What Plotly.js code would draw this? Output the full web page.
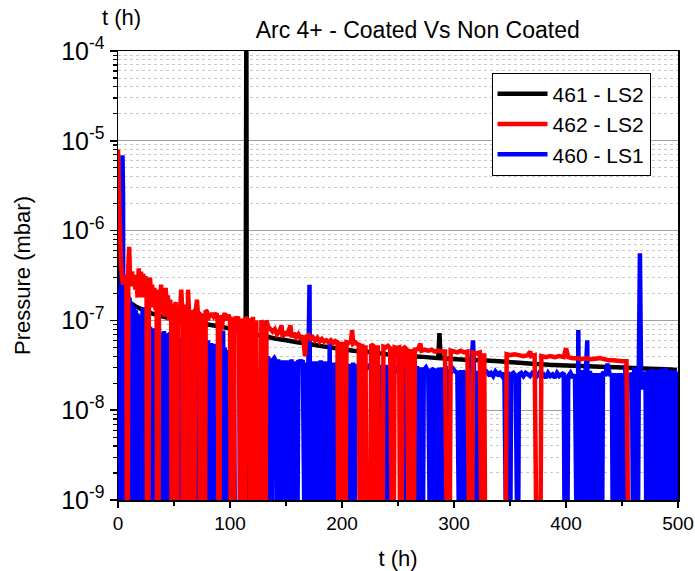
<!DOCTYPE html>
<html><head><meta charset="utf-8">
<script src="https://cdn.plot.ly/plotly-3.0.1.min.js"></script>
<style>html,body{margin:0;padding:0;background:#fff}#chart{width:695px;height:571px}</style>
</head><body><div id="chart"></div>
<script>
// Series names
const seriesNames = ["461 - LS2", "462 - LS2", "460 - LS1"];
const seriesColors = ["#000000", "#ff0000", "#0000ff"];

// 461 - LS2 (black)
const t461 = [0,0.8,1.5,3,6,10,15,20,30,40,50,60,70,80,90,100,110,114,114.6,115.2,115.8,120,130,140,150,160,170,180,190,200,210,220,230,240,250,260,270,280,286,287,288,295,310,325,340,355,370,385,400,415,430,445,460,475,490,499];
const p461 = [1e-10,1e-6,3e-7,2.2e-7,1.8e-7,1.6e-7,1.45e-7,1.35e-7,1.2e-7,1.1e-7,1.03e-7,9.8e-8,9.4e-8,9e-8,8.6e-8,8.1e-8,7.6e-8,7.4e-8,2e-4,1e-10,7.3e-8,7.1e-8,6.7e-8,6.3e-8,6e-8,5.7e-8,5.5e-8,5.2e-8,5e-8,4.8e-8,4.6e-8,4.5e-8,4.35e-8,4.2e-8,4.1e-8,4e-8,3.95e-8,3.85e-8,3.8e-8,7.2e-8,3.8e-8,3.75e-8,3.65e-8,3.6e-8,3.5e-8,3.4e-8,3.3e-8,3.2e-8,3.15e-8,3.1e-8,3.05e-8,3e-8,2.95e-8,2.9e-8,2.85e-8,2.8e-8];

// 462 - LS2 (red)
const t462 = [0,0.8,1.5,2.5,3.5,4.5,5.5,6.5,7.5,8,8.6,9.2,10,10.8,11.6,12.5,13.5,14.5,15.5,16.5,17.5,18.5,19.5,20.5,21.5,22.5,23.5,24.5,25.5,26,27,27.6,28.5,29.5,30.5,31.5,32.5,33.5,34.5,35,36,36.6,37.5,38.5,39.5,40.5,41.5,42.5,43.5,44.5,45.5,46.5,47.5,48,48.8,49.4,50.5,51.5,52,52.8,53.4,54.5,55.5,56.5,57.5,58,58.8,59.4,60.3,61,61.8,62.5,63.5,64,64.8,65.4,66.5,67.3,68.1,68.8,69.5,70.5,71.5,72.5,73.5,74.5,75.2,76.3,77,77.6,78.3,79.5,80.5,81.5,82.5,84,85.5,86.6,88,89.2,89.8,90.5,91.1,92.5,94,95.5,97,98.5,100,101,103,104,105.5,107,108,109,110,111,112,113,114,115.5,117,118,119.5,120.5,121.5,122.5,123.5,125,127,128,129.5,130.5,131.5,132.5,134,136,138,140,142,144,146,147,149,151,154,155,157,159,161,163,165,167,168,170,172,174,176,178,180,182,184,186,188,190,192,194,196,197,199,200,201,203,204,206,208,209,210,212,214,215,216,217,218,219,220,221,222,225,226,228,230,231,232,234,236,237,239,241,243,245,246,247,249,251,252,253,254,256,258,260,261,262,263,264,265,268,270,271,274,277,280,283,286,289,292,294,296,297,300,303,306,309,312,314,316,317,320,323,325,326,327,328,346,347,350,354,358,362,366,368,369,372,374,377,378,382,386,390,394,398,400,402,406,410,414,418,422,426,430,434,438,442,446,450,454,456];
const p462 = [8e-6,3e-6,1.2e-6,5e-7,3e-7,2.5e-7,3.2e-7,2.6e-7,3e-7,1e-10,1e-10,4e-7,6.6e-7,3e-7,2.4e-7,3.5e-7,2.6e-7,3.2e-7,2.2e-7,2.8e-7,1.8e-7,3.8e-7,2e-7,3.5e-7,1.8e-7,3.3e-7,2.3e-7,3.1e-7,2.2e-7,1e-10,1e-10,2.5e-7,3e-7,2e-7,2.5e-7,1.4e-7,2.3e-7,1.3e-7,2e-7,1e-10,1e-10,2.2e-7,1.5e-7,2.5e-7,1.2e-7,2e-7,1.1e-7,2.3e-7,1.5e-7,1.9e-7,1e-7,1.7e-7,1.3e-7,1e-10,1e-10,1.5e-7,1.3e-7,1.6e-7,1e-10,1e-10,1.4e-7,8.5e-8,1.4e-7,2.2e-7,1.2e-7,1e-10,1e-10,1.3e-7,1.5e-7,1e-10,1e-10,2.2e-7,1.2e-7,1e-10,1e-10,1.3e-7,1.1e-7,1e-10,1e-10,1.35e-7,1.3e-7,1.7e-7,1.1e-7,1.25e-7,1e-10,1e-10,1.2e-7,1e-7,1e-10,1e-10,1.3e-7,1.25e-7,1e-7,1.2e-7,1.1e-7,1.2e-7,1.1e-7,1.15e-7,1.2e-7,9e-8,1e-10,1e-10,1.15e-7,8e-8,1.1e-7,1.2e-7,1e-7,1.15e-7,1.05e-7,1e-10,1e-10,1.1e-7,1e-7,1.1e-7,9.5e-8,1e-10,1e-10,1.05e-7,1e-10,1e-10,1.1e-7,9.5e-8,1.05e-7,1e-10,1e-10,1.1e-7,1e-10,1e-10,1e-7,1e-10,1e-10,1e-7,9e-8,1e-10,1e-10,1e-7,8.5e-8,8e-8,7.5e-8,8e-8,7e-8,7.5e-8,8.8e-8,6.5e-8,7.5e-8,6.8e-8,8.8e-8,6.5e-8,7.2e-8,6.5e-8,7e-8,6.2e-8,6.8e-8,4e-8,6.5e-8,6.8e-8,6.2e-8,6.5e-8,6e-8,6.4e-8,5.8e-8,6.2e-8,5.8e-8,6e-8,5.7e-8,6e-8,5.6e-8,5.9e-8,5.7e-8,1e-10,1e-10,5.8e-8,1e-10,1e-10,5.7e-8,5.6e-8,5.8e-8,7.8e-8,5.5e-8,5.7e-8,5.4e-8,5.6e-8,1e-10,1e-10,5.5e-8,1e-10,1e-10,5.3e-8,1e-10,1e-10,5.4e-8,5.2e-8,1e-10,1e-10,5.3e-8,1e-10,1e-10,5.1e-8,5e-8,5.2e-8,4.9e-8,1e-10,1e-10,5e-8,4.9e-8,5e-8,1e-10,1e-10,4.8e-8,5e-8,4.7e-8,1e-10,1e-10,4.8e-8,1e-10,1e-10,4.7e-8,4.8e-8,5.5e-8,4.6e-8,4.7e-8,4.6e-8,4.7e-8,4.5e-8,4.6e-8,4.5e-8,4.5e-8,1e-10,1e-10,4.6e-8,4.5e-8,4.4e-8,4.6e-8,4.4e-8,4.5e-8,1e-10,1e-10,4.4e-8,4.3e-8,4.4e-8,1e-10,1e-10,4.3e-8,1e-10,1e-10,4.2e-8,4.1e-8,4.2e-8,4.1e-8,4e-8,4.1e-8,4.5e-8,4e-8,4.1e-8,1e-10,1e-10,4e-8,3.9e-8,4e-8,3.9e-8,4e-8,3.9e-8,4.9e-8,3.9e-8,3.8e-8,3.8e-8,3.7e-8,3.8e-8,3.7e-8,3.75e-8,3.8e-8,3.7e-8,3.6e-8,3.6e-8,3.55e-8,3.5e-8,3.5e-8,1e-10];

// 460 - LS1 (blue)
const t460 = [0,0.7,1.4,2.1,2.8,3.5,4,4.5,5,5.7,6.4,7.1,8,9,9.6,10.3,11,11.7,12.4,13.1,13.8,14.5,15.2,15.9,16.6,17.3,18,18.7,19.4,20.1,20.8,21.5,22.2,22.9,23.6,24.5,25.5,26.5,27.3,28,28.7,29.4,30.1,30.8,31.5,32.2,32.9,33.6,34.3,35.5,36.5,37.6,38.3,39,39.7,40.4,41.1,41.8,42.5,43.2,43.9,44.6,45.3,46.5,47.5,48.5,49.6,50.3,51,51.7,52.4,53.1,53.8,54.5,55.2,55.9,56.6,57.3,58,58.7,59.4,60.2,61.2,62.2,63,63.7,64.4,65.1,65.8,66.5,68,69.5,70,70.6,72,74,76,77.6,78.2,78.9,79.6,80.3,81,81.7,82.4,83.1,83.8,84.5,85.2,85.9,86.6,87.3,88,88.6,89.5,90.5,91.3,91.8,92.5,93.2,93.9,94.6,95.3,96,96.7,97.4,98.1,98.8,99.5,100.3,101.5,102.5,103.5,104.5,131,132,133,134,135,136,137,138,139.5,141,142,143,144,145,146,147,148,149,150,151,152,153,154,155,156,157,158,159,160,161,163,165,167,168,169,170,171,172,173,174,175,176,177,178,179,180,181,182,183,184,185,186,187,188,189,190,191,192,193,194,195,197,199,201,203,205,206,207,208,209,210,211,212,214,216,218,220,222,224,226,228,229,231,233,235,236,237,238,239,240,241,242,243,244,245,247,249,251,253,254,255,256,257,258,259,260,261,262,263,264,265,266,267,268,269,270,271,272,273,275,277,279,280,282,284,285,287,288,289,290,291,292,293,294,295,297,299,301,303,305,306,307,308,310,312,313,315,317,318,320,321,323,325,327,329,331,333,335,337,339,341,343,345,347,348,350,351,353,355,357,358,360,362,364,366,368,370,372,374,376,378,380,382,384,386,388,390,392,394,396,398,399,400,401,402,404,406,408,410,411,412,413,414,415,416,417,418,419,420,421,423,424,425,426,427,428,429,430,431,432,433,435,437,439,441,442,443,444,445,447,448,449,450,451,452,453,454,455,457,459,460,461,462,463,464,465,466,467,468,469,471,472,473,474,475,476,477,478,479,480,481,482.5,484,485,486,487,488,489,490,491,492,493,494,495,496,497,498,499,500];
const p460 = [2.2e-7,1e-10,2e-7,1e-10,2.3e-7,2e-6,6.9e-6,2.5e-6,1e-10,2.2e-7,1e-10,2e-7,1.9e-7,1.85e-7,1e-10,1.8e-7,1e-10,1.6e-7,1e-10,1.5e-7,1e-10,1.4e-7,1e-10,1.3e-7,1e-10,1.2e-7,1e-10,1.15e-7,1e-10,1.1e-7,1e-10,1e-7,1.4e-7,1e-10,9.5e-8,9.2e-8,9e-8,8.8e-8,8.6e-8,1e-10,8.5e-8,1e-10,8.2e-8,1e-10,8e-8,1e-10,7.8e-8,1e-10,7.6e-8,7.5e-8,7.6e-8,1e-10,7.4e-8,1e-10,7.3e-8,1e-10,7.6e-8,1e-10,7e-8,1e-10,7.2e-8,1e-10,6.9e-8,7.1e-8,6.8e-8,6.9e-8,1e-10,6.8e-8,1e-10,6.6e-8,1e-10,1.05e-7,1e-10,6.5e-8,1e-10,6.4e-8,1e-10,6.5e-8,1e-10,6.3e-8,1e-10,6.2e-8,6.4e-8,6.2e-8,1e-10,6.1e-8,1e-10,6.2e-8,1e-10,6e-8,6.1e-8,6e-8,1e-10,6e-8,5.9e-8,6e-8,5.8e-8,5.9e-8,1e-10,5.7e-8,1e-10,6e-8,1e-10,5.5e-8,1e-10,5.6e-8,1e-10,5.4e-8,1e-10,5.3e-8,1e-10,5.5e-8,1e-10,5.2e-8,5.1e-8,5.2e-8,5e-8,1e-10,5e-8,1e-10,7.7e-8,1e-10,5e-8,1e-10,4.7e-8,1e-10,4.5e-8,1e-10,4.3e-8,4e-8,4.2e-8,3.9e-8,4e-8,1e-10,1e-10,8.8e-8,1e-10,4e-8,1e-10,3.8e-8,1e-10,3.6e-8,3.8e-8,3.5e-8,1e-10,3.7e-8,1e-10,3.5e-8,1e-10,3.6e-8,1e-10,3.4e-8,1e-10,3.6e-8,1e-10,3.5e-8,1e-10,3.7e-8,1e-10,3.4e-8,1e-10,3.5e-8,1e-10,3.6e-8,3.4e-8,3.6e-8,1e-10,3.4e-8,1e-10,3.5e-8,2.5e-7,1e-10,3.5e-8,1e-10,3.3e-8,1e-10,3.5e-8,1e-10,3.4e-8,1e-10,3.6e-8,1e-10,3.3e-8,1e-10,3.5e-8,1e-10,3.4e-8,1e-10,5.6e-8,1e-10,3.3e-8,1e-10,3.4e-8,1e-10,3.2e-8,3.5e-8,3.1e-8,3.3e-8,3e-8,1e-10,3.3e-8,1e-10,3.2e-8,1e-10,3.4e-8,1e-10,3.1e-8,3e-8,3.2e-8,3e-8,3.3e-8,2.9e-8,3.1e-8,3e-8,1e-10,3.4e-8,3e-8,2.9e-8,3.1e-8,1e-10,3e-8,1e-10,3.2e-8,1e-10,3e-8,1e-10,3.1e-8,1e-10,2.9e-8,3e-8,2.8e-8,3.1e-8,2.9e-8,1e-10,3e-8,1e-10,4.4e-8,1e-10,3e-8,1e-10,2.8e-8,1e-10,3e-8,1e-10,2.9e-8,1e-10,3.1e-8,1e-10,2.8e-8,1e-10,3e-8,1e-10,2.8e-8,3e-8,2.7e-8,1e-10,2.9e-8,2.8e-8,1e-10,2.9e-8,2.7e-8,1e-10,3e-8,1e-10,2.8e-8,1e-10,3.1e-8,1e-10,2.8e-8,2.6e-8,2.9e-8,2.7e-8,2.6e-8,1e-10,2.8e-8,1e-10,2.6e-8,2.7e-8,1e-10,2.6e-8,2.8e-8,6e-8,2.6e-8,1e-10,2.7e-8,2.5e-8,2.8e-8,2.6e-8,2.7e-8,2.5e-8,2.6e-8,2.4e-8,2.7e-8,2.5e-8,2.6e-8,2.4e-8,2.6e-8,1e-10,2.7e-8,1e-10,2.5e-8,2.6e-8,2.4e-8,1e-10,2.5e-8,2.6e-8,2.4e-8,2.6e-8,2.5e-8,2.4e-8,2.6e-8,2.5e-8,2.4e-8,2.6e-8,2.4e-8,2.5e-8,2.3e-8,2.6e-8,2.4e-8,2.5e-8,2.3e-8,2.6e-8,2.4e-8,2.5e-8,2.6e-8,1e-10,2.5e-8,1e-10,2.4e-8,2.6e-8,2.3e-8,2.5e-8,1e-10,7.8e-8,1e-10,2.6e-8,1e-10,2.8e-8,1e-10,2.5e-8,3.2e-8,6e-8,1e-10,2.7e-8,2.4e-8,1e-10,2.6e-8,1e-10,2.5e-8,1e-10,2.6e-8,1e-10,2.5e-8,1e-10,2.7e-8,2.4e-8,3.3e-8,2.5e-8,2.4e-8,1e-10,2.6e-8,1e-10,2.5e-8,2.4e-8,1e-10,2.6e-8,1e-10,2.5e-8,1e-10,3.2e-8,1e-10,2.5e-8,2.4e-8,2.6e-8,1e-10,3e-8,1e-10,2.6e-8,1e-10,2.8e-8,5.6e-7,2.6e-8,1.7e-8,2.5e-8,2.6e-8,1e-10,2.8e-8,1e-10,2.7e-8,1e-10,2.9e-8,1e-10,2.6e-8,1e-10,2.8e-8,2.5e-8,1e-10,2.9e-8,1e-10,2.6e-8,1e-10,3e-8,1e-10,2.7e-8,1e-10,2.8e-8,1e-10,2.6e-8,1e-10,2.8e-8,1e-10,2.7e-8,1e-10];

// Axis ticks
const xTickVals = [0, 100, 200, 300, 400, 500];
const xMinorTickVals = [50, 150, 250, 350, 450];
const yTickVals = [1e-9, 1e-8, 1e-7, 1e-6, 1e-5, 1e-4];
const yTickText = ["10<sup>-9</sup>", "10<sup>-8</sup>", "10<sup>-7</sup>", "10<sup>-6</sup>", "10<sup>-5</sup>", "10<sup>-4</sup>"];

const FONT = "Liberation Sans, Arial, sans-serif";
const xs = [t461, t462, t460], ys = [p461, p462, p460];
const mk = i => ({
  x: xs[i], y: ys[i], type: "scatter", mode: "lines", name: seriesNames[i], legendrank: i + 1,
  line: {color: seriesColors[i], width: 4.5, simplify: false}
});
// drawing order: black, blue, red (red on top); legend order fixed by legendrank
const traces = [mk(0), mk(2), mk(1)];

const layout = {
  width: 695, height: 571,
  margin: {l: 118, r: 17, t: 51, b: 71},
  paper_bgcolor: "#fff", plot_bgcolor: "#fff",
  font: {family: FONT, color: "#000"},
  title: {text: "Arc 4+ - Coated Vs Non Coated", font: {size: 23, family: FONT, color: "#000"},
          x: 0.601, xanchor: "center", y: 0.947, yanchor: "middle"},
  showlegend: true,
  legend: {x: 0.667, xanchor: "left", y: 0.952, yanchor: "top", bgcolor: "#fff",
           bordercolor: "#000", borderwidth: 1, font: {size: 21, family: FONT, color: "#000"},
           itemwidth: 50, tracegroupgap: 0, traceorder: "normal"},
  xaxis: {range: [0, 500], tickvals: xTickVals, ticks: "outside", ticklen: 6, tickwidth: 1.5,
          tickcolor: "#000", showline: true, linecolor: "#000", linewidth: 1.5, mirror: true,
          showgrid: false, zeroline: false, tickfont: {size: 19, family: FONT},
          minor: {tickvals: xMinorTickVals, ticks: "outside", ticklen: 4, tickwidth: 1.5, tickcolor: "#000", showgrid: false},
          title: {text: "t (h)", font: {size: 22, family: FONT}, standoff: 18}},
  yaxis: {type: "log", range: [-9, -4], tickvals: yTickVals, ticktext: yTickText,
          ticks: "outside", ticklen: 7, tickwidth: 1.5, tickcolor: "#000",
          showline: true, linecolor: "#000", linewidth: 1.5, mirror: true,
          showgrid: true, gridcolor: "#a0a0a0", gridwidth: 1, zeroline: false,
          tickfont: {size: 25, family: FONT},
          minor: {dtick: "D1", ticks: "outside", ticklen: 4, tickwidth: 1.2, tickcolor: "#000",
                  showgrid: true, gridcolor: "#c8c8c8", griddash: "dot", gridwidth: 1},
          title: {text: "Pressure (mbar)", font: {size: 22, family: FONT}, standoff: 24}},
  annotations: [{text: "t (h)", xref: "paper", yref: "paper", x: 0.007, y: 1.0757,
                 xanchor: "center", yanchor: "middle", showarrow: false,
                 font: {size: 22, family: FONT, color: "#000"}}]
};
Plotly.newPlot("chart", traces, layout, {displayModeBar: false, staticPlot: true});
</script></body></html>
